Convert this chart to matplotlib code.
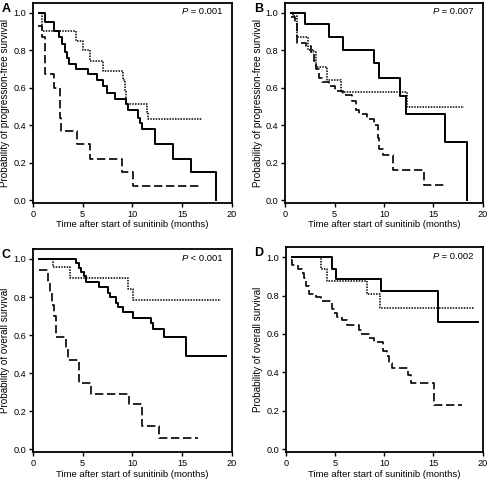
import matplotlib.pyplot as plt

plt.rcParams['font.family'] = ['Liberation Sans', 'DejaVu Sans']

# ---- panel A: progression-free survival ----
a_solid_t = [0.6, 1.24, 2.07, 2.6, 2.9, 3.17, 3.4, 3.6, 4.34, 5.58, 6.48, 7.08, 7.4, 8.25, 9.35, 9.58, 10.6, 10.75, 11.0, 12.25, 14.1, 15.86, 18.43]
a_solid_s = [1.0, 0.95, 0.90, 0.87, 0.83, 0.79, 0.76, 0.725, 0.70, 0.67, 0.64, 0.61, 0.57, 0.54, 0.51, 0.48, 0.44, 0.41, 0.38, 0.30, 0.22, 0.15, 0.0]
a_dot_t = [0.6, 0.9, 4.34, 5.0, 5.74, 7.0, 9.08, 9.2, 9.3, 11.5, 11.6, 17.0]
a_dot_s = [1.0, 0.90, 0.85, 0.80, 0.74, 0.69, 0.64, 0.58, 0.51, 0.47, 0.43, 0.43]
a_dash_t = [0.5, 0.9, 1.17, 2.07, 2.7, 2.78, 4.47, 5.74, 8.98, 10.08, 17.0]
a_dash_s = [0.93, 0.87, 0.67, 0.60, 0.44, 0.37, 0.30, 0.22, 0.15, 0.074, 0.074]

# ---- panel B: progression-free survival ----
b_solid_t = [0.6, 2.02, 4.38, 5.8, 9.0, 9.5, 11.6, 12.28, 16.2, 18.45]
b_solid_s = [1.0, 0.94, 0.87, 0.80, 0.73, 0.65, 0.555, 0.46, 0.31, 0.0]
b_dot_t = [0.6, 0.8, 1.2, 2.3, 2.95, 3.1, 4.18, 5.6, 12.3, 18.1]
b_dot_s = [1.0, 0.98, 0.87, 0.80, 0.79, 0.71, 0.64, 0.575, 0.495, 0.495]
b_dash_t = [0.6, 1.0, 1.15, 2.1, 2.6, 2.9, 3.1, 3.4, 3.7, 4.45, 5.0, 5.8, 6.75, 7.15, 7.5, 8.3, 9.0, 9.35, 9.5, 9.85, 10.9, 14.06, 16.2]
b_dash_s = [0.975, 0.95, 0.84, 0.82, 0.79, 0.74, 0.70, 0.65, 0.63, 0.61, 0.58, 0.56, 0.53, 0.48, 0.46, 0.43, 0.40, 0.33, 0.27, 0.24, 0.16, 0.08, 0.08]

# ---- panel C: overall survival ----
c_solid_t = [0.6, 4.36, 4.6, 4.86, 5.1, 5.3, 6.63, 7.54, 7.7, 8.3, 8.54, 9.05, 10.05, 11.9, 12.1, 13.2, 15.4, 19.4]
c_solid_s = [1.0, 0.98, 0.95, 0.93, 0.91, 0.88, 0.85, 0.82, 0.80, 0.77, 0.75, 0.72, 0.69, 0.665, 0.63, 0.59, 0.49, 0.49]
c_dot_t = [0.6, 2.0, 3.7, 9.55, 10.05, 18.9]
c_dot_s = [1.0, 0.96, 0.90, 0.84, 0.785, 0.785]
c_dash_t = [0.6, 1.5, 1.68, 1.94, 2.1, 2.3, 3.3, 3.5, 4.6, 5.86, 9.7, 11.0, 12.7, 16.6]
c_dash_s = [0.94, 0.88, 0.82, 0.76, 0.70, 0.59, 0.53, 0.47, 0.35, 0.29, 0.235, 0.12, 0.06, 0.06]

# ---- panel D: overall survival ----
d_solid_t = [0.6, 4.66, 5.1, 9.66, 15.5, 19.5]
d_solid_s = [1.0, 0.94, 0.885, 0.825, 0.66, 0.66]
d_dot_t = [0.6, 3.55, 4.2, 8.28, 9.6, 19.1]
d_dot_s = [1.0, 0.94, 0.875, 0.81, 0.735, 0.735]
d_dash_t = [0.5, 0.6, 1.28, 1.62, 1.86, 2.03, 2.36, 3.04, 3.55, 4.66, 4.9, 5.24, 5.74, 6.25, 7.43, 7.6, 8.45, 8.95, 9.86, 10.3, 10.5, 10.8, 12.4, 12.67, 15.1, 17.9]
d_dash_s = [0.985, 0.96, 0.94, 0.92, 0.89, 0.85, 0.81, 0.79, 0.77, 0.73, 0.71, 0.69, 0.67, 0.645, 0.62, 0.60, 0.58, 0.56, 0.51, 0.485, 0.45, 0.42, 0.385, 0.345, 0.23, 0.23]

panel_letters = ['A', 'B', 'C', 'D']
p_texts = ['= 0.001', '= 0.007', '< 0.001', '= 0.002']
y_labels = ['Probability of progression-free survival', 'Probability of progression-free survival',
            'Probability of overall survival', 'Probability of overall survival']
x_label = 'Time after start of sunitinib (months)'

curves = [
    [(a_solid_t, a_solid_s), (a_dot_t, a_dot_s), (a_dash_t, a_dash_s)],
    [(b_solid_t, b_solid_s), (b_dot_t, b_dot_s), (b_dash_t, b_dash_s)],
    [(c_solid_t, c_solid_s), (c_dot_t, c_dot_s), (c_dash_t, c_dash_s)],
    [(d_solid_t, d_solid_s), (d_dot_t, d_dot_s), (d_dash_t, d_dash_s)],
]

fig = plt.figure(figsize=(4.92, 4.79), dpi=100)
boxes = [
    [0.067, 0.576, 0.4045, 0.418],
    [0.580, 0.576, 0.401, 0.418],
    [0.067, 0.056, 0.4045, 0.424],
    [0.581, 0.056, 0.400, 0.428],
]
styles = [
    dict(linestyle='-', linewidth=1.4),
    dict(linestyle=(0, (1, 0.8)), linewidth=1.1),
    dict(linestyle=(0, (5, 2.2)), linewidth=1.2),
]

for i in range(4):
    ax = fig.add_axes(boxes[i])
    for (t, s), st in zip(curves[i], styles):
        ax.step(t, s, where='post', color='black', **st)
    ax.set_xlim(0, 20)
    ax.set_ylim(-0.016, 1.052)
    ax.set_xticks([0, 5, 10, 15, 20])
    ax.set_yticks([0.0, 0.2, 0.4, 0.6, 0.8, 1.0])
    ax.set_yticklabels(['0.0', '0.2', '0.4', '0.6', '0.8', '1.0'])
    ax.tick_params(labelsize=6.6, length=3, width=1, direction='out', pad=2)
    for sp in ax.spines.values():
        sp.set_linewidth(1.3)
    ax.set_xlabel(x_label, fontsize=6.8, labelpad=1)
    ax.set_ylabel(y_labels[i], fontsize=7.1, labelpad=2)
    ax.text(0.78, 0.955, 'P', transform=ax.transAxes, fontsize=6.8, style='italic',
            ha='right', va='center')
    ax.text(0.78, 0.955, ' ' + p_texts[i], transform=ax.transAxes, fontsize=6.8,
            ha='left', va='center')
    fig.text(boxes[i][0] - 0.064, boxes[i][1] + boxes[i][3] - 0.012, panel_letters[i],
             fontsize=9, fontweight='bold', ha='left', va='center')

fig.savefig('out.png', dpi=100)
